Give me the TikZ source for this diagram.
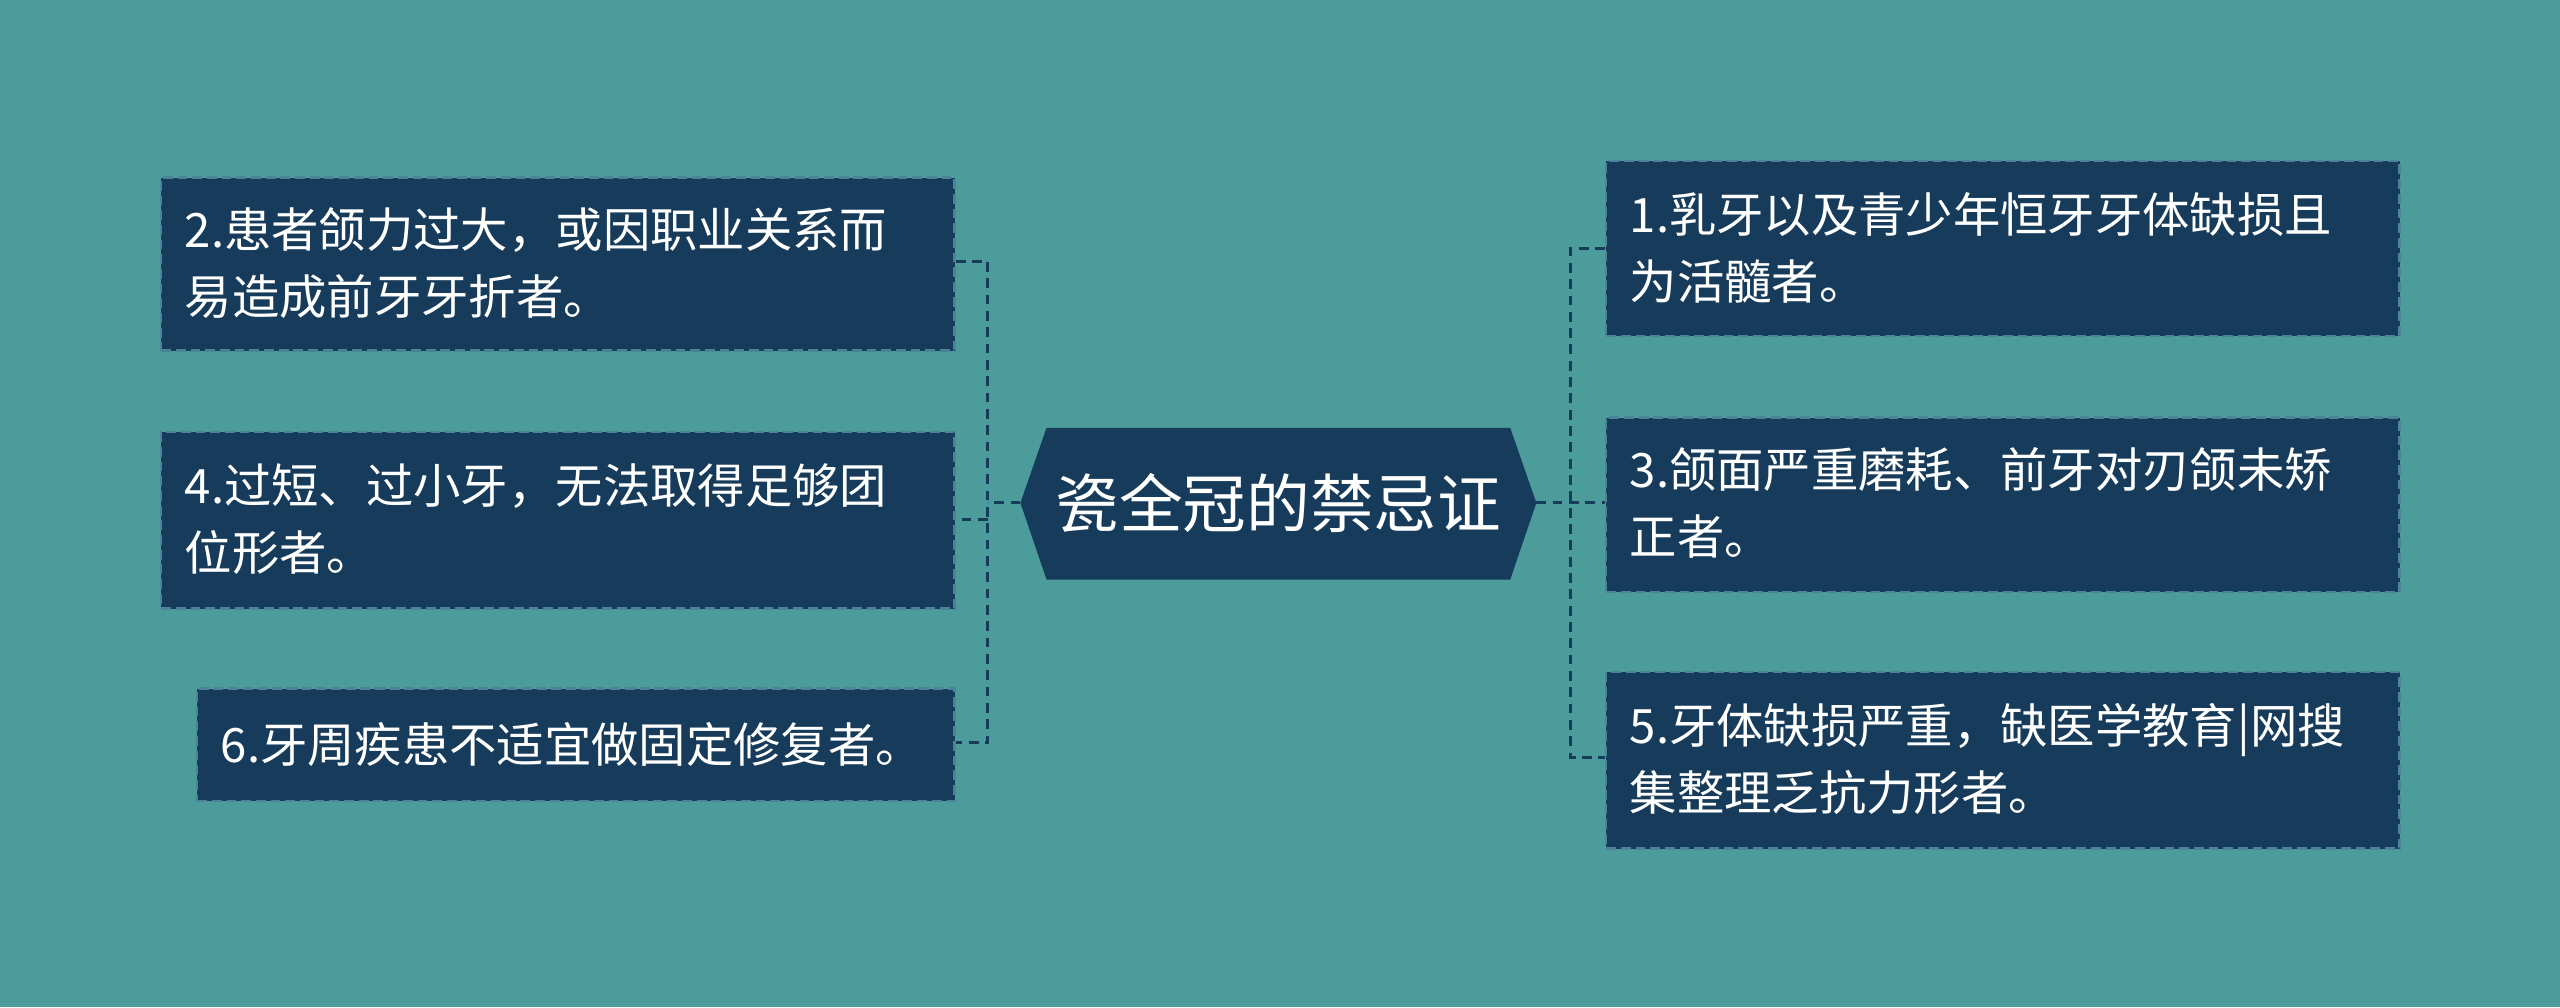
\documentclass[tikz,border=0pt]{standalone}
\usepackage{fontspec}
\newfontfamily\cjk{Noto Sans CJK SC}
\definecolor{bg}{HTML}{4C9C9C}
\definecolor{box}{HTML}{173B5B}
\definecolor{edge}{HTML}{4D8398}
\begin{document}
\begin{tikzpicture}[x=1pt,y=-1pt,
  leaf/.style={draw=edge,dash pattern=on 6pt off 3pt,line width=1.5pt,fill=box,anchor=north west,inner sep=0pt},
  txt/.style={font=\cjk\fontsize{29}{41}\selectfont,text=white,align=left,anchor=west,inner sep=0pt},
  conn/.style={draw=box,dash pattern=on 6pt off 4pt,line width=2pt}]
\fill[bg] (0,0) rectangle (1568,617);
\fill[box] (625,308) -- (641,262) -- (925,262) -- (941,308) -- (925,355) -- (641,355) -- cycle;
\node[text=white,font=\cjk\fontsize{39}{44}\selectfont] (c) at (783,308) {瓷全冠的禁忌证};
\coordinate (cl) at (625,308); \coordinate (cr) at (941,308);
\node[leaf,minimum width=486pt,minimum height=106pt] (l1) at (98,108) {};
\node[txt] at (113,161) {2.患者颌力过大，或因职业关系而\\易造成前牙牙折者。};
\node[leaf,minimum width=486pt,minimum height=108pt] (l2) at (98,264) {};
\node[txt] at (113,318) {4.过短、过小牙，无法取得足够团\\位形者。};
\node[leaf,minimum width=464pt,minimum height=69pt] (l3) at (120,421) {};
\node[txt] at (135,456) {6.牙周疾患不适宜做固定修复者。};
\node[leaf,minimum width=486pt,minimum height=107pt] (r1) at (983,98) {};
\node[txt] at (998,152) {1.乳牙以及青少年恒牙牙体缺损且\\为活髓者。};
\node[leaf,minimum width=486pt,minimum height=107pt] (r2) at (983,255) {};
\node[txt] at (998,308) {3.颌面严重磨耗、前牙对刃颌未矫\\正者。};
\node[leaf,minimum width=486pt,minimum height=108pt] (r3) at (983,411) {};
\node[txt] at (998,465) {5.牙体缺损严重，缺医学教育|网搜\\集整理乏抗力形者。};
\draw[conn] (cl) -- (605,308);
\draw[conn] (l1.east |- 0,160) -- (605,160) -- (605,455) -- (l3.east |- 0,455);
\draw[conn] (605,318) -- (l2.east |- 0,318);
\draw[conn] (cr) -- (962,308) -- (r2.west |- 0,308);
\draw[conn] (r1.west |- 0,152) -- (962,152) -- (962,464) -- (r3.west |- 0,464);
\end{tikzpicture}
\end{document}
